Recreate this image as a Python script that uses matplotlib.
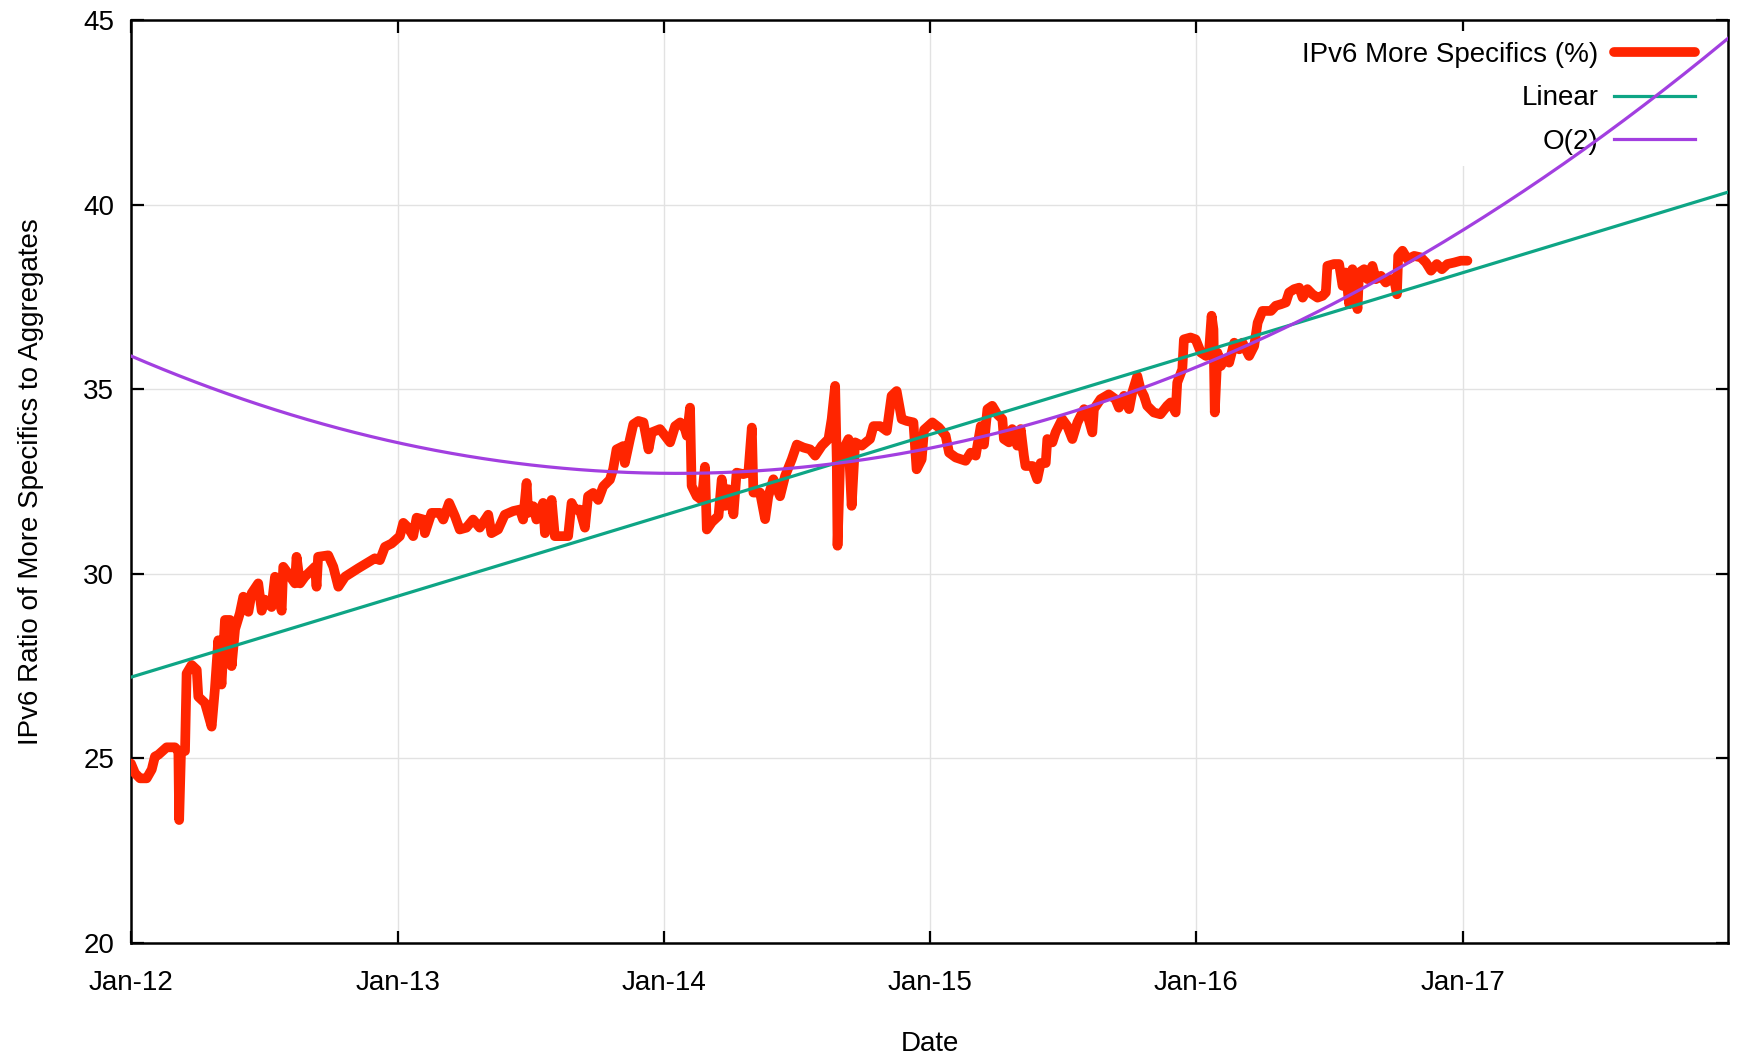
import numpy as np
import pandas as pd
import matplotlib
matplotlib.use("Agg")
import matplotlib.pyplot as plt
import matplotlib.dates as mdates

plt.rcParams['font.family'] = ['Liberation Sans', 'DejaVu Sans']

# years since 1 Jan 2012, ratio of more specifics (%)
years = [
    0.000, 0.015, 0.034, 0.059, 0.078, 0.090, 0.103, 0.134, 0.165, 0.178,
    0.181, 0.188, 0.203, 0.209, 0.228, 0.247, 0.253, 0.278, 0.303, 0.315,
    0.328, 0.340, 0.353, 0.372, 0.378, 0.391, 0.409, 0.422, 0.441, 0.453,
    0.478, 0.491, 0.503, 0.528, 0.541, 0.566, 0.572, 0.591, 0.616, 0.622,
    0.635, 0.653, 0.691, 0.697, 0.703, 0.741, 0.760, 0.779, 0.804, 0.854,
    0.916, 0.935, 0.954, 0.979,
    1.010, 1.023, 1.041, 1.060, 1.073, 1.098, 1.104, 1.129, 1.160, 1.173,
    1.195, 1.217, 1.235, 1.260, 1.285, 1.310, 1.342, 1.354, 1.379, 1.404,
    1.436, 1.461, 1.473, 1.486, 1.492, 1.511, 1.523, 1.548, 1.555, 1.580,
    1.592, 1.623, 1.642, 1.655, 1.667, 1.686, 1.705, 1.717, 1.736, 1.755,
    1.774, 1.799, 1.811, 1.824, 1.849, 1.855, 1.874,
    1.887, 1.906, 1.925, 1.944, 1.956, 1.987, 2.006, 2.025, 2.044, 2.063,
    2.081, 2.088, 2.100, 2.106, 2.125, 2.144, 2.156, 2.163, 2.182, 2.207,
    2.219, 2.232, 2.244, 2.263, 2.275, 2.300, 2.319, 2.332, 2.338, 2.363,
    2.382, 2.394, 2.413, 2.438, 2.457, 2.482, 2.501, 2.526, 2.551, 2.570,
    2.595, 2.620, 2.632, 2.645, 2.651, 2.654, 2.664, 2.676, 2.695, 2.707,
    2.720, 2.745, 2.776, 2.789, 2.814, 2.839, 2.857, 2.876, 2.895, 2.914,
    2.939, 2.951, 2.970,
    2.979, 3.010, 3.035, 3.060, 3.073, 3.098, 3.135, 3.154, 3.173, 3.192,
    3.204, 3.217, 3.235, 3.254, 3.273, 3.279, 3.298, 3.310, 3.329, 3.342,
    3.354, 3.360, 3.386, 3.404, 3.417, 3.436, 3.442, 3.461, 3.473, 3.498,
    3.517, 3.536, 3.555, 3.580, 3.592, 3.611, 3.617, 3.642, 3.673, 3.698,
    3.711, 3.730, 3.749, 3.761, 3.780, 3.792, 3.805, 3.817, 3.842, 3.867,
    3.892, 3.905, 3.924, 3.930, 3.949, 3.955, 3.980, 3.999,
    4.019, 4.038, 4.050, 4.059, 4.066, 4.071, 4.081, 4.094, 4.106, 4.125,
    4.144, 4.163, 4.175, 4.200, 4.219, 4.232, 4.250, 4.282, 4.300, 4.319,
    4.338, 4.350, 4.369, 4.388, 4.401, 4.419, 4.438, 4.457, 4.476, 4.488,
    4.494, 4.519, 4.538, 4.551, 4.563, 4.576, 4.588, 4.607, 4.613, 4.632,
    4.645, 4.663, 4.676, 4.695, 4.713, 4.732, 4.745, 4.755, 4.760, 4.776,
    4.795, 4.820, 4.845, 4.864, 4.883, 4.905, 4.924, 4.945, 4.970, 4.995,
    5.020,
]
ratio = [
    24.86, 24.60, 24.46, 24.46, 24.70, 25.05, 25.10, 25.30, 25.30, 25.20,
    23.33, 25.20, 25.20, 27.30, 27.53, 27.40, 26.67, 26.50, 25.86, 26.85,
    28.20, 27.00, 28.75, 28.75, 27.50, 28.50, 28.93, 29.38, 28.97, 29.47,
    29.74, 29.00, 29.30, 29.10, 29.92, 29.00, 30.19, 30.00, 29.74, 30.46,
    29.74, 29.92, 30.19, 29.65, 30.46, 30.50, 30.19, 29.65, 29.92, 30.15,
    30.42, 30.37, 30.73, 30.82,
    31.02, 31.38, 31.25, 31.02, 31.52, 31.47, 31.10, 31.65, 31.65, 31.47,
    31.92, 31.56, 31.20, 31.25, 31.47, 31.25, 31.60, 31.10, 31.20, 31.60,
    31.70, 31.74, 31.47, 32.46, 31.65, 31.83, 31.47, 31.92, 31.10, 32.00,
    31.02, 31.02, 31.02, 31.92, 31.74, 31.74, 31.25, 32.10, 32.19, 32.00,
    32.37, 32.55, 32.83, 33.37, 33.46, 33.00, 33.64,
    34.05, 34.14, 34.10, 33.37, 33.83, 33.92, 33.74, 33.56, 34.00, 34.10,
    33.92, 33.74, 34.50, 32.38, 32.10, 32.00, 32.90, 31.20, 31.40, 31.57,
    32.56, 31.84, 32.29, 31.61, 32.74, 32.70, 32.74, 33.96, 32.20, 32.20,
    31.48, 32.10, 32.56, 32.10, 32.65, 33.10, 33.50, 33.42, 33.37, 33.20,
    33.47, 33.65, 34.19, 35.09, 33.10, 30.76, 33.10, 33.37, 33.65, 31.84,
    33.56, 33.47, 33.65, 34.00, 34.00, 33.87, 34.82, 34.95, 34.19, 34.14,
    34.10, 32.83, 33.10,
    33.90, 34.10, 33.96, 33.74, 33.28, 33.15, 33.06, 33.28, 33.20, 34.00,
    33.50, 34.46, 34.55, 34.32, 34.19, 33.65, 33.56, 33.92, 33.47, 33.92,
    33.20, 32.92, 32.92, 32.56, 33.00, 33.00, 33.65, 33.56, 33.83, 34.19,
    34.00, 33.65, 34.10, 34.46, 34.32, 33.83, 34.46, 34.73, 34.86, 34.73,
    34.50, 34.82, 34.46, 34.91, 35.36, 35.00, 34.82, 34.55, 34.37, 34.32,
    34.55, 34.64, 34.37, 35.18, 35.54, 36.35, 36.40, 36.35,
    35.99, 35.90, 36.08, 36.99, 36.62, 34.37, 35.99, 35.63, 35.81, 35.72,
    36.26, 36.08, 36.26, 35.90, 36.17, 36.80, 37.12, 37.12, 37.26, 37.30,
    37.35, 37.62, 37.71, 37.75, 37.48, 37.71, 37.57, 37.48, 37.53, 37.62,
    38.34, 38.39, 38.39, 37.80, 38.16, 37.30, 38.25, 37.17, 38.16, 38.25,
    37.98, 38.34, 37.98, 38.07, 37.89, 37.98, 37.98, 37.57, 38.61, 38.75,
    38.52, 38.61, 38.57, 38.43, 38.21, 38.39, 38.25, 38.39, 38.43, 38.48,
    38.48,
]

# fitted curves, coefficients in years since 2012 (highest power first)
linear_fit = [2.19, 27.2]
quad_fit = [0.756, -3.101, 35.90]

start = pd.Timestamp('2012-01-01')
end = pd.Timestamp('2017-12-31')


def to_dates(t):
    return start + pd.to_timedelta(np.asarray(t) * 365.25, unit='D')


fig = plt.figure(figsize=(17.37, 10.58), dpi=100)
ax = fig.add_axes([0.0754, 0.1087, 0.9194, 0.8724])

t_fit = np.linspace(0, (end - start).days / 365.25, 400)

ax.plot(to_dates(years), ratio, color='#ff2500', lw=7.0, solid_joinstyle='round',
        solid_capstyle='round', label='IPv6 More Specifics (%)', zorder=3)
ax.plot(to_dates(t_fit), np.polyval(linear_fit, t_fit), color='#0ea585', lw=2.3,
        label='Linear', zorder=4)
ax.plot(to_dates(t_fit), np.polyval(quad_fit, t_fit), color='#a23fe0', lw=2.3,
        label='O(2)', zorder=4)

ax.set_xlim(start, end)
ax.set_ylim(20, 45)
ax.set_yticks(range(20, 46, 5))
ax.set_xticks(pd.date_range('2012-01-01', '2017-01-01', freq='YS'))
ax.xaxis.set_major_formatter(mdates.DateFormatter('%b-%y'))

ax.grid(True, color='#e2e2e2', lw=1.0)
ax.set_axisbelow(True)
ax.tick_params(direction='in', length=9, width=1.6, top=True, right=True,
               labelsize=20, colors='black')
ax.tick_params(axis='x', pad=19.5)
ax.tick_params(axis='y', pad=12)
for s in ax.spines.values():
    s.set_linewidth(1.8)

ax.set_xlabel('Date', fontsize=20, labelpad=25)
ax.set_ylabel('IPv6 Ratio of More Specifics to Aggregates', fontsize=20, labelpad=28)

leg = ax.legend(loc='upper right', bbox_to_anchor=(0.9862, 0.988), borderaxespad=0,
                markerfirst=False, frameon=True, fontsize=20,
                handlelength=2.9, handletextpad=0.56, labelspacing=0.62, borderpad=0.4,
                fancybox=False, edgecolor='none', facecolor='white', framealpha=1)
leg.set_zorder(2)

fig.savefig('out.png', dpi=100)
